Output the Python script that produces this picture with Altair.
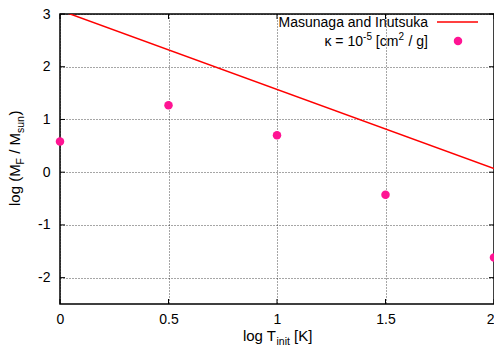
import altair as alt
import pandas as pd

# data
log_T = [0.0, 0.5, 1.0, 1.5, 2.0]
log_MF = [0.58, 1.27, 0.70, -0.43, -1.62]
fit_x = [0.0, 2.0]
fit_y = [3.07, 0.07]
x_ticks = [0, 0.5, 1, 1.5, 2]
y_ticks = [-2, -1, 0, 1, 2, 3]

W, H = 434, 290
FONT = "Liberation Sans"
RED = "#ff0000"
PINK = "#ff1493"

xs = alt.Scale(domain=[0, 2], nice=False, zero=False)
ys = alt.Scale(domain=[-2.5, 3], nice=False, zero=False)

x_axis = alt.Axis(values=x_ticks, labelExpr="datum.value + ''", grid=True, ticks=False,
                  domain=False, labelFontSize=14, labelFont=FONT, labelColor="black",
                  labelPadding=8, labelFlush=False, gridColor="black", gridDash=[1, 2],
                  gridOpacity=0.7,
                  labelAlign={"expr": "datum.value >= 2 ? 'right' : 'center'"})
y_axis = alt.Axis(values=y_ticks, labelExpr="datum.value + ''", grid=True, ticks=False,
                  domain=False, labelFontSize=14, labelFont=FONT, labelColor="black",
                  labelPadding=10, labelFlush=False, gridColor="black", gridDash=[1, 2],
                  gridOpacity=0.7)


def X(f):
    return alt.X(f, scale=xs, axis=x_axis, title=None)


def Y(f):
    return alt.Y(f, scale=ys, axis=y_axis, title=None)


df_pts = pd.DataFrame({"x": log_T, "y": log_MF})
df_fit = pd.DataFrame({"x": fit_x, "y": fit_y})

fit = alt.Chart(df_fit).mark_line(color=RED, strokeWidth=1.5, clip=True).encode(
    x=X("x:Q"), y=Y("y:Q"))
pts = alt.Chart(df_pts).mark_circle(size=72, color=PINK, opacity=1).encode(
    x=X("x:Q"), y=Y("y:Q"))

df_xt = pd.DataFrame({"x": x_ticks})
df_yt = pd.DataFrame({"y": y_ticks})
TL = 5
tick_layers = [
    alt.Chart(df_yt).mark_rule(color="black", strokeWidth=1).encode(
        y=Y("y:Q"), x=alt.value(0), x2=alt.value(TL)),
    alt.Chart(df_yt).mark_rule(color="black", strokeWidth=1).encode(
        y=Y("y:Q"), x=alt.value(W - TL), x2=alt.value(W)),
    alt.Chart(df_xt).mark_rule(color="black", strokeWidth=1).encode(
        x=X("x:Q"), y=alt.value(H - TL), y2=alt.value(H)),
    alt.Chart(df_xt).mark_rule(color="black", strokeWidth=1).encode(
        x=X("x:Q"), y=alt.value(0), y2=alt.value(TL)),
]


def txt(s, x, y, size=14, align="left", angle=0, baseline="alphabetic"):
    return alt.Chart(pd.DataFrame({"t": [s]})).mark_text(
        font=FONT, fontSize=size, color="black", align=align, baseline=baseline,
        angle=angle).encode(x=alt.value(x), y=alt.value(y), text="t:N")


texts = []
# x axis title: log T_init [K]
xb = 327
texts.append(txt("log T", 216, xb, size=15, align="right"))
texts.append(txt("init", 216.5, xb + 3.5, size=10.5))
texts.append(txt("[K]", 234, xb, size=15))

# y axis title: log (M_F / M_sun)   rotated
yx = -40
texts.append(txt("log (M", yx, 192, size=15, angle=270))
texts.append(txt("F", yx + 4, 150.4, size=10.5, angle=270))
texts.append(txt("/ M", yx, 139.8, size=15, angle=270))
texts.append(txt("sun", yx + 4, 119, size=10.5, angle=270))
texts.append(txt(")", yx, 101.5, size=15, angle=270))

# legend
l1 = 13
l2 = 32
texts.append(txt("Masunaga and Inutsuka", 368, l1, align="right"))
texts.append(txt("/ g]", 368, l2, align="right"))
texts.append(txt("2", 344, l2 - 6, size=10, align="right"))
texts.append(txt("[cm", 338.4, l2, align="right"))
texts.append(txt("-5", 312, l2 - 6, size=10, align="right"))
texts.append(txt("\u03ba = 10", 303, l2, align="right"))

leg_line = alt.Chart(pd.DataFrame({"a": [0]})).mark_rule(color=RED, strokeWidth=1.5).encode(
    x=alt.value(377), x2=alt.value(418), y=alt.value(l1 - 5))
leg_dot = alt.Chart(pd.DataFrame({"a": [0]})).mark_circle(size=72, color=PINK, opacity=1).encode(
    x=alt.value(398), y=alt.value(l2 - 5))

chart = alt.layer(fit, pts, *tick_layers, *texts, leg_line, leg_dot).properties(
    width=W, height=H,
    padding={"left": 52, "top": 6, "right": 0, "bottom": 41},
    autosize=alt.AutoSizeParams(type="none"),
    background="white",
).configure_view(stroke="black", strokeWidth=1.5)

chart.save("out.html", embed_options={"renderer": "svg", "actions": False})
